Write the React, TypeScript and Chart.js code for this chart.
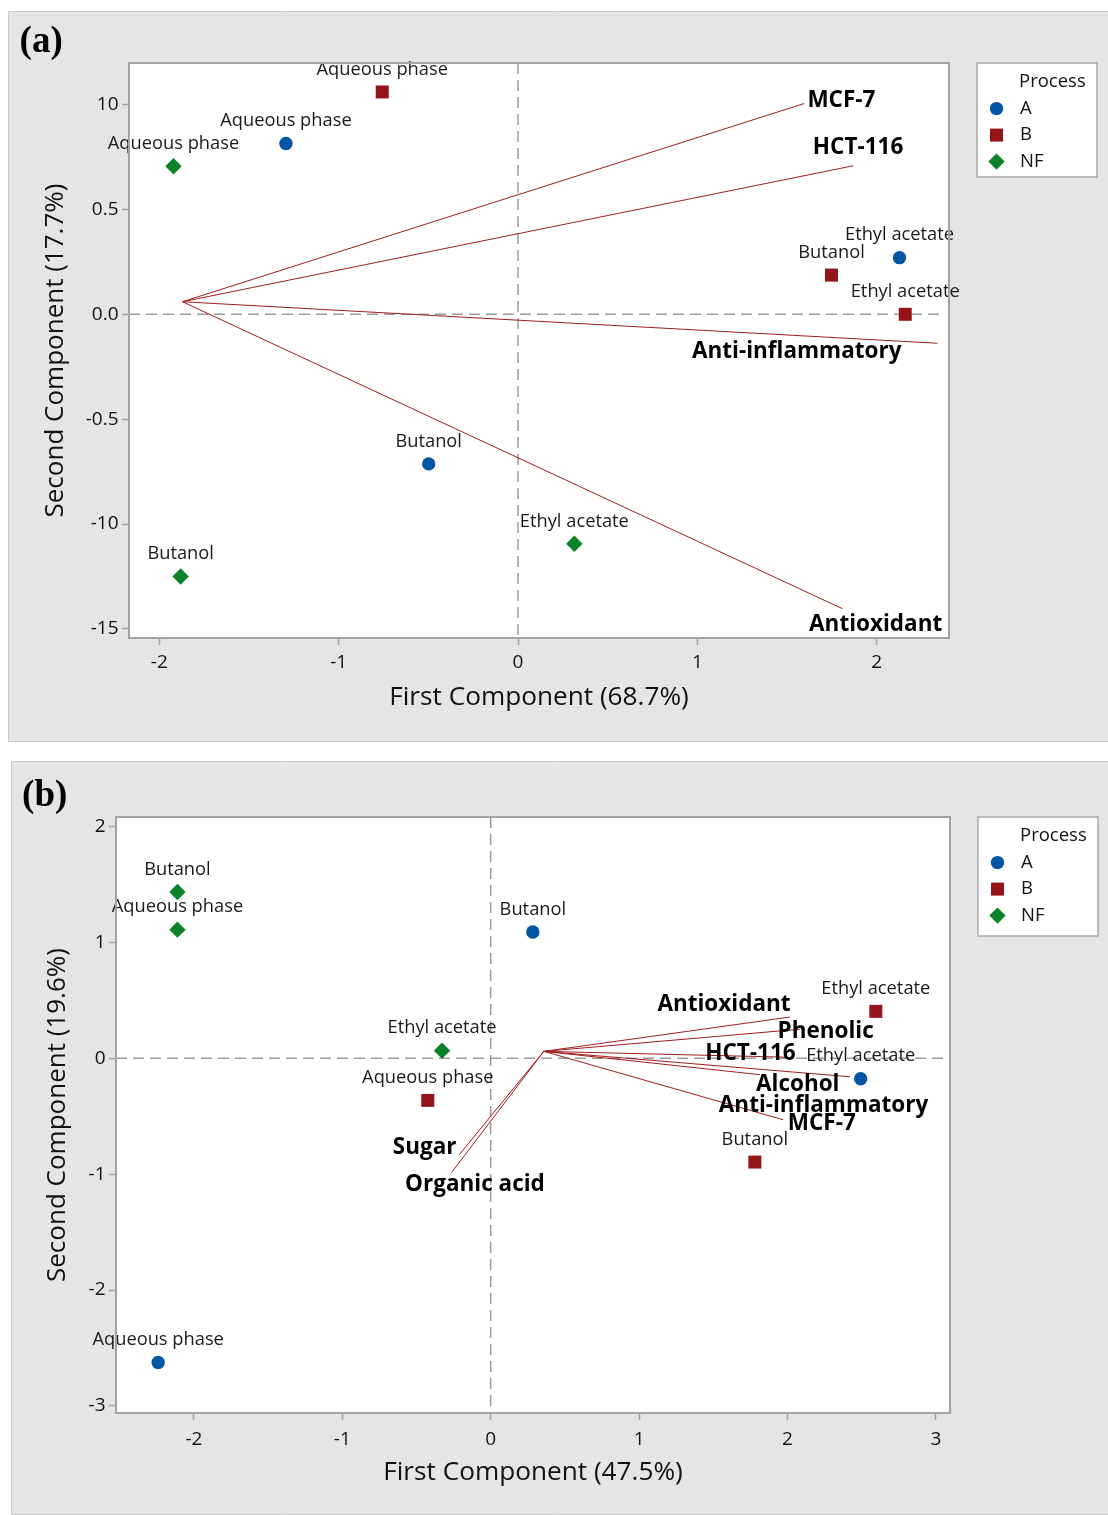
import React, { useEffect, useRef } from "react";
import { Chart, registerables } from "chart.js";

Chart.register(...registerables);

// ---------------- data ----------------
const processNames = ["A", "B", "NF"];
const sampleNames = ["Aqueous phase", "Butanol", "Ethyl acetate"];

// Panel (a)
const aXTicks = [-2, -1, 0, 1, 2];
const aYTicks = [1.0, 0.5, 0.0, -0.5, -1.0, -1.5];
const aYTickLabels = ["10", "0.5", "0.0", "-0.5", "-10", "-15"];
const aXRange = [-2.169, 2.403];
const aYRange = [-1.543, 1.198];
const aScoresA = [[-1.294, 0.814], [-0.498, -0.713], [2.127, 0.27]];
const aScoresB = [[-0.757, 1.06], [1.748, 0.187], [2.159, 0.0]];
const aScoresNF = [[-1.921, 0.706], [-1.881, -1.25], [0.314, -1.094]];
const aVectorNames = ["MCF-7", "HCT-116", "Anti-inflammatory", "Antioxidant"];
const aVectorOrigin = [-1.871, 0.06];
const aVectorEnds = [[1.596, 1.005], [1.869, 0.708], [2.339, -0.138], [1.808, -1.403]];
const aVectorLabelAt = [[1.803, 1.017], [1.896, 0.793], [1.554, -0.178], [1.994, -1.48]];

// Panel (b)
const bXTicks = [-2, -1, 0, 1, 2, 3];
const bYTicks = [2, 1, 0, -1, -2, -3];
const bYTickLabels = ["2", "1", "0", "-1", "-2", "-3"];
const bXRange = [-2.525, 3.095];
const bYRange = [-3.061, 2.081];
const bScoresA = [[-2.241, -2.625], [0.284, 1.089], [2.493, -0.177]];
const bScoresB = [[-0.424, -0.364], [1.78, -0.896], [2.595, 0.404]];
const bScoresNF = [[-2.111, 1.109], [-2.111, 1.434], [-0.328, 0.065]];
const bVectorNames = ["Antioxidant", "Phenolic", "HCT-116", "Alcohol", "Anti-inflammatory", "MCF-7", "Sugar", "Organic acid"];
const bVectorOrigin = [0.358, 0.059];
const bVectorEnds = [[2.016, 0.355], [2.083, 0.25], [1.983, 0.009], [2.42, -0.16], [1.814, -0.142], [1.971, -0.531], [-0.212, -0.833], [-0.263, -0.985]];
const bVectorLabelAt = [[1.572, 0.462], [2.257, 0.226], [1.75, 0.039], [2.069, -0.229], [2.243, -0.407], [2.231, -0.568], [-0.445, -0.77], [-0.106, -1.091]];

// ---------------- styles ----------------
const FONT = "'Open Sans', 'Noto Sans', sans-serif";
const markerColors = ["#0455a4", "#931518", "#0a8228"];
const markerStyles = ["circle", "rect", "rectRot"];
const markerRadii = [6.7, 9.2, 8.2];
const vectorColor = "#a11c1c";
const axisGray = "#a3a3a3";

const panels = [
  {
    tag: "(a)", left: 8, top: 11, w: 1100, h: 731,
    padTop: 52, padRight: 159, yAxisW: 121, xAxisH: 104,
    xTitle: "First Component (68.7%)", yTitle: "Second Component (17.7%)",
    xTitlePadBottom: 28.7, yTitlePadTop: 31.8, xTickPad: 6,
    tagX: 11.6, tagY: 41, legendH: 114,
    xTicks: aXTicks, yTicks: aYTicks, yTickLabels: aYTickLabels, xRange: aXRange, yRange: aYRange,
    scores: [aScoresA, aScoresB, aScoresNF],
    vecNames: aVectorNames, origin: aVectorOrigin, vecEnds: aVectorEnds, vecLabelAt: aVectorLabelAt,
  },
  {
    tag: "(b)", left: 11, top: 761, w: 1097, h: 754,
    padTop: 56, padRight: 158, yAxisW: 105, xAxisH: 102,
    xTitle: "First Component (47.5%)", yTitle: "Second Component (19.6%)",
    xTitlePadBottom: 26.7, yTitlePadTop: 30.5, xTickPad: 8,
    tagX: 11.1, tagY: 45, legendH: 119,
    xTicks: bXTicks, yTicks: bYTicks, yTickLabels: bYTickLabels, xRange: bXRange, yRange: bYRange,
    scores: [bScoresA, bScoresB, bScoresNF],
    vecNames: bVectorNames, origin: bVectorOrigin, vecEnds: bVectorEnds, vecLabelAt: bVectorLabelAt,
  },
];

function drawMarker(ctx: CanvasRenderingContext2D, style: string, x: number, y: number, r: number, color: string) {
  ctx.fillStyle = color;
  ctx.beginPath();
  if (style === "circle") ctx.arc(x, y, r, 0, Math.PI * 2);
  else if (style === "rect") {
    const s = r * Math.SQRT1_2;
    ctx.rect(x - s, y - s, 2 * s, 2 * s);
  } else {
    ctx.moveTo(x - r, y);
    ctx.lineTo(x, y - r);
    ctx.lineTo(x + r, y);
    ctx.lineTo(x, y + r);
    ctx.closePath();
  }
  ctx.fill();
}

function buildChart(canvas: HTMLCanvasElement, p: any) {
  const datasets: any[] = [];
  p.scores.forEach((pts: number[][], gi: number) => {
    datasets.push({
      type: "scatter",
      label: processNames[gi],
      data: pts.map((d, i) => ({ x: d[0], y: d[1], name: sampleNames[i] })),
      pointStyle: markerStyles[gi],
      pointRadius: markerRadii[gi],
      pointBackgroundColor: markerColors[gi],
      pointBorderWidth: 0,
      backgroundColor: markerColors[gi],
      borderColor: markerColors[gi],
      order: 0,
    });
  });
  p.vecNames.forEach((n: string, i: number) => {
    datasets.push({
      type: "line",
      label: n,
      data: [
        { x: p.origin[0], y: p.origin[1] },
        { x: p.vecEnds[i][0], y: p.vecEnds[i][1] },
      ],
      borderColor: vectorColor,
      borderWidth: 1,
      pointRadius: 0,
      fill: false,
      tension: 0,
      order: 1,
    });
  });

  const decor = {
    id: "decor",
    beforeDraw(chart: any) {
      const { ctx, width, height, chartArea: a } = chart;
      ctx.save();
      ctx.fillStyle = "#e5e5e5";
      ctx.fillRect(0, 0, width, height);
      ctx.strokeStyle = "#cacaca";
      ctx.lineWidth = 1;
      ctx.beginPath();
      ctx.moveTo(width, 0.5);
      ctx.lineTo(0.5, 0.5);
      ctx.lineTo(0.5, height - 0.5);
      ctx.lineTo(width, height - 0.5);
      ctx.stroke();
      ctx.fillStyle = "#ffffff";
      ctx.fillRect(a.left, a.top, a.right - a.left, a.bottom - a.top);
      ctx.restore();
    },
    beforeDatasetsDraw(chart: any) {
      const { ctx, chartArea: a, scales } = chart;
      const x0 = scales.x.getPixelForValue(0);
      const y0 = scales.y.getPixelForValue(0);
      ctx.save();
      ctx.strokeStyle = "#9a9a9a";
      ctx.lineWidth = 1.5;
      ctx.setLineDash([11, 6]);
      ctx.beginPath();
      ctx.moveTo(x0, a.top);
      ctx.lineTo(x0, a.bottom);
      ctx.moveTo(a.left, y0);
      ctx.lineTo(a.right - 4, y0);
      ctx.stroke();
      ctx.restore();
    },
    afterDatasetsDraw(chart: any) {
      const { ctx, scales } = chart;
      ctx.save();
      // point labels
      ctx.font = `18.3px ${FONT}`;
      ctx.fillStyle = "#1a1a1a";
      ctx.textAlign = "center";
      ctx.textBaseline = "middle";
      chart.data.datasets.forEach((ds: any, di: number) => {
        if (ds.type !== "scatter") return;
        const meta = chart.getDatasetMeta(di);
        meta.data.forEach((el: any, j: number) => {
          ctx.fillText(ds.data[j].name, el.x, el.y - 22.5);
        });
      });
      // vector labels
      ctx.font = `bold 22.5px ${FONT}`;
      ctx.fillStyle = "#000";
      p.vecNames.forEach((n: string, i: number) => {
        const lx = scales.x.getPixelForValue(p.vecLabelAt[i][0]);
        const ly = scales.y.getPixelForValue(p.vecLabelAt[i][1]);
        ctx.fillText(n, lx, ly);
      });
      ctx.restore();
    },
    afterDraw(chart: any) {
      const { ctx, chartArea: a } = chart;
      ctx.save();
      // frame
      ctx.strokeStyle = axisGray;
      ctx.lineWidth = 2;
      ctx.strokeRect(a.left, a.top, a.right - a.left, a.bottom - a.top);
      // legend
      const lx = a.right + 28;
      const ly = a.top;
      ctx.fillStyle = "#fff";
      ctx.fillRect(lx, ly, 120, p.legendH);
      ctx.strokeStyle = "#a8a8a8";
      ctx.lineWidth = 1.5;
      ctx.strokeRect(lx, ly, 120, p.legendH);
      ctx.fillStyle = "#111";
      ctx.font = `18.5px ${FONT}`;
      ctx.textAlign = "left";
      ctx.textBaseline = "middle";
      ctx.fillText("Process", lx + 42, ly + 19);
      processNames.forEach((n, i) => {
        const ry = ly + 45.6 + i * 26.5;
        drawMarker(ctx, markerStyles[i], lx + 19.5, ry, markerRadii[i], markerColors[i]);
        ctx.fillStyle = "#111";
        ctx.fillText(n, lx + 43, ry);
      });
      // panel tag
      ctx.font = `bold 37px 'Liberation Serif', 'Times New Roman', serif`;
      ctx.textBaseline = "alphabetic";
      ctx.fillStyle = "#000";
      ctx.fillText(p.tag, p.tagX, p.tagY);
      ctx.restore();
    },
  };

  return new Chart(canvas, {
    type: "scatter",
    data: { datasets },
    plugins: [decor],
    options: {
      responsive: false,
      maintainAspectRatio: false,
      animation: false,
      events: [],
      devicePixelRatio: 1,
      layout: { padding: { left: 0, top: p.padTop, right: p.padRight, bottom: 0 } },
      plugins: { legend: { display: false }, tooltip: { enabled: false }, title: { display: false } },
      scales: {
        x: {
          type: "linear",
          position: "bottom",
          min: p.xRange[0],
          max: p.xRange[1],
          afterBuildTicks: (s: any) => {
            s.ticks = p.xTicks.map((v: number) => ({ value: v }));
          },
          afterFit: (s: any) => {
            s.height = p.xAxisH;
          },
          grid: { display: true, drawOnChartArea: false, drawTicks: true, tickLength: 7, tickColor: axisGray, tickWidth: 1.5, color: axisGray },
          border: { display: false },
          ticks: {
            font: { family: FONT, size: 19 },
            color: "#111",
            padding: p.xTickPad,
            maxRotation: 0,
            autoSkip: false,
            callback: (v: any) => String(v),
          },
          title: {
            display: true,
            text: p.xTitle,
            color: "#111",
            font: { family: FONT, size: 26.2 },
            padding: { top: 0, bottom: p.xTitlePadBottom },
          },
        },
        y: {
          type: "linear",
          position: "left",
          min: p.yRange[0],
          max: p.yRange[1],
          afterBuildTicks: (s: any) => {
            s.ticks = p.yTicks.map((v: number) => ({ value: v }));
          },
          afterFit: (s: any) => {
            s.width = p.yAxisW;
          },
          grid: { display: true, drawOnChartArea: false, drawTicks: true, tickLength: 7, tickColor: axisGray, tickWidth: 1.5, color: axisGray },
          border: { display: false },
          ticks: {
            font: { family: FONT, size: 19 },
            color: "#111",
            padding: 3.5,
            autoSkip: false,
            callback: (v: any) => {
              const idx = p.yTicks.findIndex((t: number) => Math.abs(t - Number(v)) < 1e-9);
              return idx >= 0 ? p.yTickLabels[idx] : "";
            },
          },
          title: {
            display: true,
            text: p.yTitle,
            color: "#111",
            font: { family: FONT, size: 26 },
            padding: { top: p.yTitlePadTop, bottom: 0 },
          },
        },
      },
    } as any,
  });
}

function Panel({ p }: { p: any }) {
  const ref = useRef<HTMLCanvasElement | null>(null);
  useEffect(() => {
    if (!ref.current) return;
    const chart = buildChart(ref.current, p);
    return () => chart.destroy();
  }, [p]);
  return (
    <div style={{ position: "absolute", left: p.left, top: p.top, width: p.w, height: p.h, overflow: "hidden" }}>
      <canvas
        ref={ref}
        width={p.w}
        height={p.h}
        style={{ position: "absolute", left: 0, top: 0, width: p.w, height: p.h, display: "block" }}
      />
    </div>
  );
}

export default function App() {
  useEffect(() => {
    document.documentElement.style.overflow = "hidden";
    document.body.style.overflow = "hidden";
  }, []);
  return (
    <div style={{ position: "fixed", left: 0, top: 0, width: 1108, height: 1515, overflow: "hidden" }}>
      {panels.map((p) => (
        <Panel key={p.tag} p={p} />
      ))}
    </div>
  );
}
